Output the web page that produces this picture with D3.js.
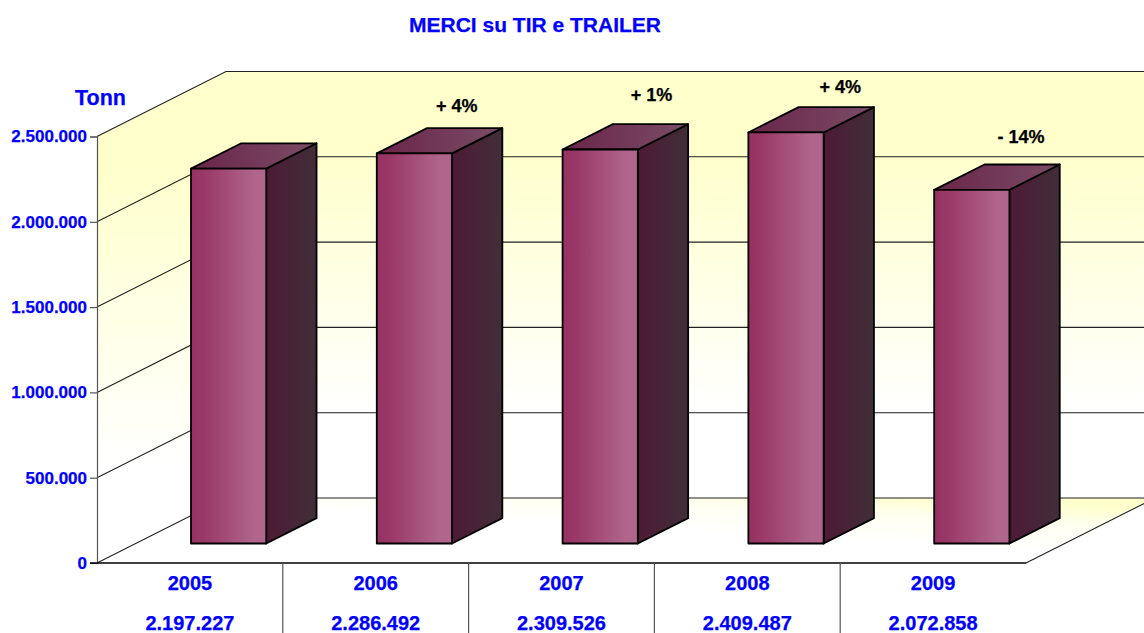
<!DOCTYPE html>
<html>
<head>
<meta charset="utf-8">
<script src="https://cdnjs.cloudflare.com/ajax/libs/d3/7.8.5/d3.min.js"></script>
<style>
    html, body { margin: 0; padding: 0; background: #fff; overflow: hidden; }
    text { font-family: "Liberation Sans", Arial, sans-serif; font-weight: bold; stroke: currentColor; stroke-width: 0.25; }
</style>
</head>
<body>
<div id="svg-container"></div>
<script>
const years = ["2005", "2006", "2007", "2008", "2009"];
const tonnes = [2197227, 2286492, 2309526, 2409487, 2072858];
const changes = ["", "+ 4%", "+ 1%", "+ 4%", "- 14%"];
const yTicks = [0, 500000, 1000000, 1500000, 2000000, 2500000];

const width = 1144, height = 633;
const blue = "#0000ff";

// Wall depth, and where the bars sit inside it
const depthX = 129, depthY = 65;
const barFrontDepth = 0.3, barBackDepth = 0.69;

// The percent labels were placed by hand in the original, so they get a nudge each
const changeDx = [0, 81, 90, 93, 88];
const changeDy = [0, -41, -48, -39, -47];

const svg = d3.select("#svg-container")
    .append("svg")
    .attr("version", 1.1)
    .attr("xmlns", "http://www.w3.org/2000/svg")
    .attr("width", width)
    .attr("height", height)
    .style("display", "block");

const x = d3.scaleBand().domain(years).range([97, 1026]);
const y = d3.scaleLinear().domain([0, 2500000]).range([563, 136.5]);
const fmt = d3.formatLocale({ decimal: ",", thousands: ".", grouping: [3], currency: ["", ""] }).format(",d");

// Gradients
const defs = svg.append("defs");
function gradient(id, x1, y1, x2, y2, stops) {
    const g = defs.append("linearGradient").attr("id", id)
        .attr("x1", x1).attr("y1", y1).attr("x2", x2).attr("y2", y2);
    stops.forEach(s => g.append("stop").attr("offset", s[0]).attr("stop-color", s[1]));
}
gradient("wall", 0, 0, 0, 1, [[0, "#ffffcc"], [0.2, "#ffffcc"], [0.8, "#ffffff"], [1, "#ffffff"]]);
// The floor fades towards the front left corner
gradient("floor", 1, 0, 0.1, 1, [[0, "#ffffcc"], [0.1, "#ffffcc"], [0.26, "#fffff0"], [0.5, "#ffffff"], [1, "#ffffff"]]);
gradient("front", 0, 0, 1, 0, [[0, "#963162"], [0.2, "#9a3a69"], [0.85, "#b0668c"], [1, "#b0668c"]]);
gradient("side", 0, 0, 1, 0, [[0, "#4e1a36"], [1, "#402e38"]]);
gradient("topFace", 0, 0, 1, 0, [[0, "#6a2549"], [1, "#7a4c66"]]);

const poly = pts => pts.map(p => p.join(",")).join(" ");
const wallLeft = x.range()[0], wallRight = x.range()[1];
const base = y(0), wallTop = y(2500000);

// Walls and floor
const walls = svg.append("g");
walls.append("polygon")
    .attr("points", poly([[wallLeft, base], [wallLeft, wallTop], [wallLeft + depthX, wallTop - depthY], [wallLeft + depthX, base - depthY]]))
    .attr("fill", "url(#wall)");
walls.append("polygon")
    .attr("points", poly([[wallLeft + depthX, base - depthY], [wallLeft + depthX, wallTop - depthY], [wallRight + depthX, wallTop - depthY], [wallRight + depthX, base - depthY]]))
    .attr("fill", "url(#wall)");
walls.append("polygon")
    .attr("points", poly([[wallLeft, base], [wallLeft + depthX, base - depthY], [wallRight + depthX, base - depthY], [wallRight, base]]))
    .attr("fill", "url(#floor)");

// Gridlines: along the side wall, then along the back wall
const grid = svg.append("g").attr("fill", "none").attr("stroke", "#222").attr("stroke-width", 1.1);
grid.selectAll("path")
    .data(yTicks)
    .enter()
    .append("path")
    .attr("d", d => `M${wallLeft},${y(d)}L${wallLeft + depthX},${y(d) - depthY}L${wallRight + depthX},${y(d) - depthY}`);
grid.append("line")
    .attr("x1", wallRight).attr("y1", base)
    .attr("x2", wallRight + depthX).attr("y2", base - depthY);

// Y axis
const yAxis = svg.append("g")
    .attr("transform", `translate(${wallLeft},0)`)
    .call(d3.axisLeft(y).tickValues(yTicks).tickFormat(fmt).tickSize(7).tickPadding(3));
yAxis.selectAll("path, line").attr("stroke", "#555").attr("stroke-width", 1.2);
yAxis.selectAll("text").attr("fill", blue).attr("color", blue).attr("font-size", 17).attr("font-family", null);

// Front edge and the dividers under it
svg.append("line")
    .attr("x1", wallLeft - 7).attr("x2", wallRight).attr("y1", base).attr("y2", base)
    .attr("stroke", "#000").attr("stroke-width", 1.5);
svg.append("g").selectAll("line")
    .data(years.slice(1))
    .enter()
    .append("line")
    .attr("x1", d => x(d)).attr("x2", d => x(d))
    .attr("y1", base).attr("y2", height)
    .attr("stroke", "#555").attr("stroke-width", 1.2);

// Bars
const barShift = d3.scaleLinear().domain([0, 1]).range([0, depthX]);
const barLift = d3.scaleLinear().domain([0, 1]).range([0, depthY]);
const barWidth = x.bandwidth() * 0.405;
const ddx = barShift(barBackDepth - barFrontDepth), ddy = barLift(barBackDepth - barFrontDepth);

const bars = svg.append("g").selectAll(".bar")
    .data(years.map((year, i) => ({ year, value: tonnes[i] })))
    .enter()
    .append("g")
    .attr("class", "bar")
    .attr("stroke", "#000")
    .attr("stroke-width", 1.8)
    .attr("stroke-linejoin", "round")
    .attr("transform", d => `translate(${x(d.year) + x.bandwidth() / 2 - barWidth / 2 + barShift(barFrontDepth)},${-barLift(barFrontDepth)})`);

bars.append("polygon")
    .attr("fill", "url(#side)")
    .attr("points", d => poly([[barWidth, base], [barWidth, y(d.value)], [barWidth + ddx, y(d.value) - ddy], [barWidth + ddx, base - ddy]]));
bars.append("polygon")
    .attr("fill", "url(#topFace)")
    .attr("points", d => poly([[0, y(d.value)], [ddx, y(d.value) - ddy], [barWidth + ddx, y(d.value) - ddy], [barWidth, y(d.value)]]));
bars.append("rect")
    .attr("fill", "url(#front)")
    .attr("x", 0)
    .attr("y", d => y(d.value))
    .attr("width", barWidth)
    .attr("height", d => base - y(d.value));

// Percent change labels above the bars
svg.append("g").attr("color", "#000").selectAll("text")
    .data(years)
    .enter()
    .append("text")
    .attr("x", (d, i) => x(d) + x.bandwidth() / 2 + changeDx[i])
    .attr("y", (d, i) => y(tonnes[i]) - barLift(barFrontDepth) + changeDy[i])
    .attr("text-anchor", "middle")
    .attr("font-size", 18)
    .attr("fill", "#000")
    .text((d, i) => changes[i]);

// Category labels and their values
const labels = svg.append("g").attr("fill", blue).attr("color", blue).attr("font-size", 20).attr("text-anchor", "middle");
labels.selectAll(".year")
    .data(years)
    .enter()
    .append("text")
    .attr("class", "year")
    .attr("x", d => x(d) + x.bandwidth() / 2)
    .attr("y", 590)
    .text(d => d);
labels.selectAll(".value")
    .data(tonnes)
    .enter()
    .append("text")
    .attr("class", "value")
    .attr("x", (d, i) => x(years[i]) + x.bandwidth() / 2)
    .attr("y", 630)
    .text(d => fmt(d));

// Title and unit
svg.append("text")
    .attr("x", 535).attr("y", 32)
    .attr("text-anchor", "middle")
    .attr("font-size", 21)
    .attr("fill", blue)
    .attr("color", blue)
    .text("MERCI su TIR e TRAILER");
svg.append("text")
    .attr("x", 75).attr("y", 105)
    .attr("font-size", 21.5)
    .attr("fill", blue)
    .attr("color", blue)
    .text("Tonn");
</script>
</body>
</html>
